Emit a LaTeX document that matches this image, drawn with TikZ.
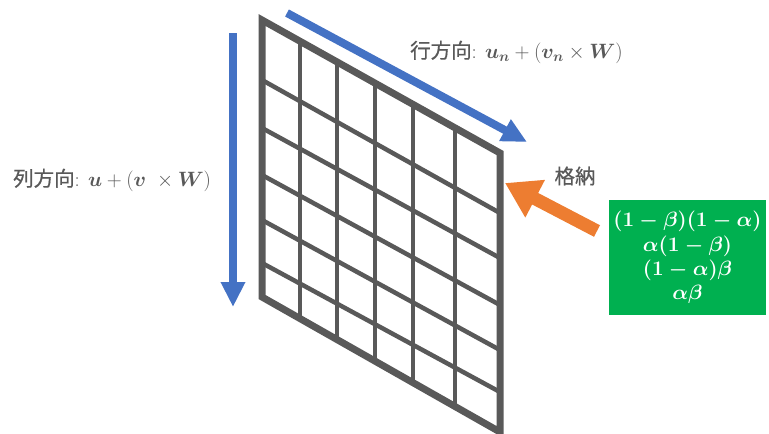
\documentclass[tikz,border=0pt]{standalone}
\usepackage{fontspec}
\usepackage{amsmath}
\usepackage{bm}
\usetikzlibrary{arrows.meta,calc}
\newfontfamily\cjk[FakeBold=0.6]{Noto Sans CJK JP}
\definecolor{gridgray}{HTML}{595959}
\definecolor{arrowblue}{HTML}{4472C4}
\definecolor{arroworange}{HTML}{ED7D31}
\definecolor{boxgreen}{HTML}{00B050}
\newcommand{\coeftext}{%
  \begin{tabular}{@{}c@{}}
  $(1-\beta)(1-\alpha)$\\[0pt]
  $\alpha(1-\beta)$\\[-1pt]
  $(1-\alpha)\beta$\\[-1pt]
  $\alpha\beta$
  \end{tabular}}
\tikzset{
  outerframe/.style={draw=gridgray, line width=7pt, line join=miter},
  innerline/.style={draw=gridgray, line width=4.5pt},
  bluearrow/.style={draw=arrowblue, line width=8pt, -{Triangle[width=23pt,length=25pt]}},
  orangearrow/.style={draw=arroworange, line width=13pt, -{Triangle[width=40pt,length=34pt]}},
  lbl/.style={text=gridgray, inner sep=0pt, font=\fontsize{20.5}{24}\selectfont},
  greenbox/.style={fill=boxgreen, text=white, minimum width=157pt, minimum height=115pt, inner sep=0pt, font=\fontsize{21}{25}\selectfont\boldmath}
}
\begin{document}
\begin{tikzpicture}[x=1pt,y=-1pt]
\useasboundingbox (0,0) rectangle (769,434);
% grid corners
\coordinate (TL) at (262,20);
\coordinate (TR) at (500,153);
\coordinate (BL) at (262,297);
\coordinate (BR) at (500,432);
% rows (slanted)
\foreach \ly/\ry in {80/213, 128/258, 175/305, 220/350, 263/392}{
  \draw[innerline] (262,\ly) -- (500,\ry);
}
% columns (vertical)
\foreach \t in {0.16, 0.315, 0.475, 0.634, 0.811}{
  \draw[innerline] ($(TL)!\t!(TR)$) -- ($(BL)!\t!(BR)$);
}
\draw[outerframe] (TL) -- (TR) -- (BR) -- (BL) -- cycle;
% blue arrows
\coordinate (colstart) at (233,33);
\coordinate (colend) at (233,307);
\draw[bluearrow] (colstart) -- (colend);
\coordinate (rowstart) at (287,13);
\coordinate (rowend) at (527,142);
\draw[bluearrow] (rowstart) -- (rowend);
% labels
\node[lbl, anchor=west] (rowlabel) at (410,52) {{\cjk 行方向}: $\bm{u}_{\bm{n}} + (\bm{v}_{\bm{n}} \times \bm{W})$};
\node[lbl, anchor=west] (collabel) at (13,180) {{\cjk 列方向}: $\bm{u} + (\bm{v}\ \times \bm{W})$};
\node[lbl] (store) at (575,176) {\cjk 格納};
% green box
\node[greenbox] (coef) at (687.5,257.5) {\coeftext};
% orange arrow
\coordinate (orstart) at (597,231);
\coordinate (orend) at (505,183);
\draw[orangearrow] (orstart) -- (orend);
\end{tikzpicture}
\end{document}
